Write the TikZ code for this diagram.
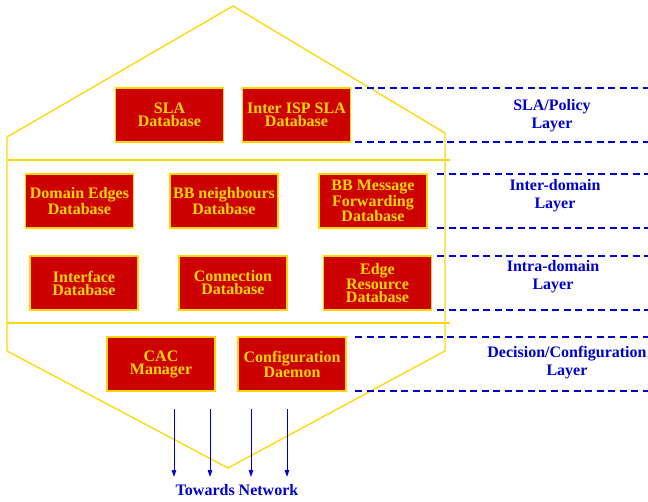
\documentclass[tikz,border=0pt]{standalone}
\usepackage{fontspec}
\setmainfont{Liberation Serif}
\usetikzlibrary{arrows.meta}
\definecolor{dbred}{RGB}{205,0,0}
\definecolor{gold}{RGB}{255,215,0}
\definecolor{lblue}{RGB}{0,0,205}
\tikzset{
  db/.style={draw=gold, fill=dbred, line width=1.4pt, minimum width=108pt, minimum height=54pt,
    inner sep=0pt, text=gold, align=center, font=\bfseries\fontsize{16}{13}\selectfont},
  hexline/.style={draw=gold, line width=1.3pt},
  layerdash/.style={draw=lblue, line width=1.3pt, dash pattern=on 7pt off 4.5pt},
  layerlbl/.style={text=lblue, align=center, inner sep=0pt, font=\bfseries\fontsize{16}{18}\selectfont},
  netarrow/.style={draw=lblue, line width=1pt, -{Triangle[length=7pt,width=4.5pt]}}
}
\begin{document}
\begin{tikzpicture}[x=1pt,y=-1pt]
\useasboundingbox (0,0) rectangle (648,501);
% hexagon
\draw[hexline] (233,6) -- (445,133) -- (445,351) -- (228,468) -- (7,351) -- (7,137) -- cycle;
\draw[hexline] (7,160) -- (450,160);
\draw[hexline] (7,323) -- (450,323);
% dashed layer lines
\draw[layerdash] (355,88) -- (648,88);
\draw[layerdash] (355,142) -- (648,142);
\draw[layerdash] (437,174) -- (648,174);
\draw[layerdash] (437,228) -- (648,228);
\draw[layerdash] (437,256) -- (648,256);
\draw[layerdash] (437,310) -- (648,310);
\draw[layerdash] (355,337) -- (648,337);
\draw[layerdash] (355,391) -- (648,391);
% boxes
\node[db] (sla) at (169.5,115) {SLA\\Database};
\node[db] (isp) at (296.5,115) {Inter ISP SLA\\Database};
\node[db] (dom) at (79.5,201) {Domain Edges\\Database};
\node[db] (bbn) at (224,201) {BB neighbours\\Database};
\node[db] (bbm) at (373,201) {BB Message\\Forwarding\\Database};
\node[db] (ifc) at (84,283) {Interface\\Database};
\node[db] (con) at (233,283) {Connection\\Database};
\node[db] (edg) at (377.5,283) {Edge\\Resource\\Database};
\node[db] (cac) at (161,364) {CAC\\Manager};
\node[db] (cfg) at (292,364) {Configuration\\Daemon};
% layer labels
\node[layerlbl] (l1) at (552,116) {SLA/Policy\\Layer};
\node[layerlbl] (l2) at (555,196) {Inter-domain\\Layer};
\node[layerlbl] (l3) at (553,277) {Intra-domain\\Layer};
\node[layerlbl] (l4) at (567,363) {Decision/Configuration\\Layer};
% towards network
\node[layerlbl] (net) at (237,490) {Towards Network};
\coordinate (a1) at (174,409);
\coordinate (a2) at (210,409);
\coordinate (a3) at (251,409);
\coordinate (a4) at (287,409);
\coordinate (b1) at (174,477);
\coordinate (b2) at (210,477);
\coordinate (b3) at (251,477);
\coordinate (b4) at (287,477);
\draw[netarrow] (a1) -- (b1);
\draw[netarrow] (a2) -- (b2);
\draw[netarrow] (a3) -- (b3);
\draw[netarrow] (a4) -- (b4);
\end{tikzpicture}
\end{document}
